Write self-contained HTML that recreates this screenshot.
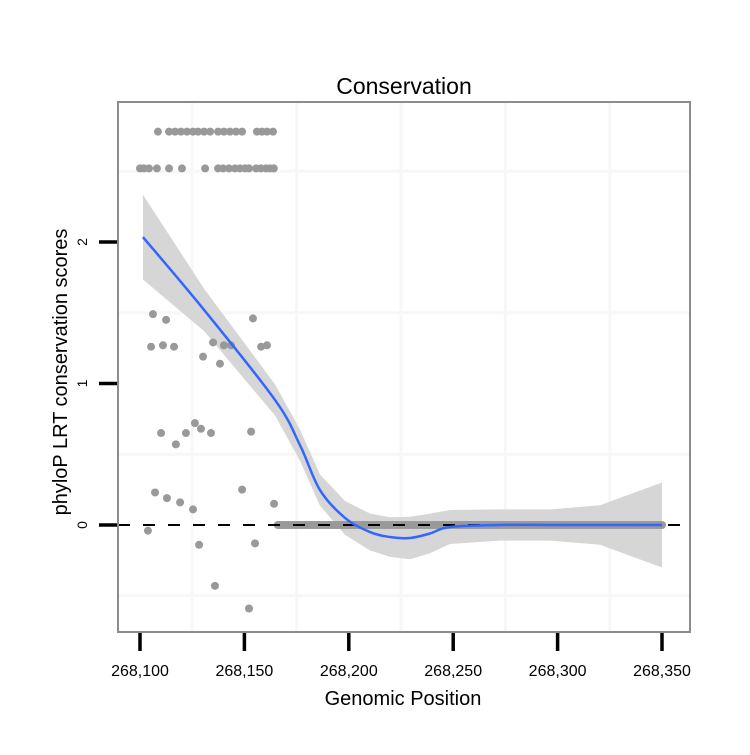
<!DOCTYPE html>
<html><head><meta charset="utf-8"><style>
body{margin:0;background:#fff;}
svg text{font-family:"Liberation Sans",sans-serif;}
</style></head><body>
<svg id="chart" width="750" height="750">
<rect x="0" y="0" width="750" height="750" fill="#fff"/>
<g id="grid"></g>
<g id="band"></g>
<g id="pts"></g>
<g id="zline"></g>
<g id="smooth"></g>
<rect x="118" y="102" width="572" height="530" fill="none" stroke="#8c8c8c" stroke-width="2"/>
<g id="axes"></g>
<text x="404" y="94" font-size="23" text-anchor="middle">Conservation</text>
<text x="403" y="705" font-size="20" text-anchor="middle">Genomic Position</text>
<text transform="translate(67,372) rotate(-90)" font-size="20" text-anchor="middle">phyloP LRT conservation scores</text>
</svg>
<script>
const xTicks=[268100,268150,268200,268250,268300,268350];
const xTickLabels=["268,100","268,150","268,200","268,250","268,300","268,350"];
const yTicks=[0,1,2];
const yTickLabels=["0","1","2"];
const ptX=[268108.6,268113.9,268116.8,268119.6,268122.5,268125.4,268127.8,268130.7,268133.6,268137.4,268140.2,268143.1,268146,268148.9,268156,268158.4,268160.8,268163.7,
268100,268101.9,268104.3,268108.1,268113.9,268120.1,268131.2,268137.4,268139.8,268142.6,268145.5,268147.9,268150.3,268152.2,268155.6,268157.9,268160.3,268162.2,268164.1,
268106.2,268112.5,268105.3,268111,268116.3,268135,268140.2,268143.6,268154.1,268158,268160.8,268130.2,268138.3,
268110.1,268117.2,268122,268126.3,268129.2,268134,268153.2,
268107.2,268112.9,268119.2,268125.4,268148.9,268164.2,
268103.8,268128.3,268155.1,268135.9,268152.2];
const ptY=[2.78,2.78,2.78,2.78,2.78,2.78,2.78,2.78,2.78,2.78,2.78,2.78,2.78,2.78,2.78,2.78,2.78,2.78,
2.52,2.52,2.52,2.52,2.52,2.52,2.52,2.52,2.52,2.52,2.52,2.52,2.52,2.52,2.52,2.52,2.52,2.52,2.52,
1.49,1.45,1.26,1.27,1.26,1.29,1.27,1.27,1.46,1.26,1.27,1.19,1.14,
0.65,0.57,0.65,0.72,0.68,0.65,0.66,
0.23,0.19,0.16,0.11,0.25,0.15,
-0.04,-0.14,-0.13,-0.43,-0.59];
const zeroStart=268166, zeroEnd=268350;
const smX=[268101.4,268130.7,268164.7,268176.6,268186.2,268198.2,268210.2,268219.7,268229.3,268238.9,268248.4,268272.4,268296.4,268320.3,268350];
const smY=[2.035,1.52,0.883,0.565,0.247,0.05,-0.05,-0.085,-0.092,-0.06,-0.014,0,0,0,0];
const smSE=[0.3,0.15,0.11,0.11,0.11,0.12,0.13,0.14,0.15,0.14,0.12,0.11,0.11,0.14,0.3];
const X=v=>140+(v-268100)*2.088, Y=v=>525-v*141.5;
const NS="http://www.w3.org/2000/svg";
function mk(t,p,a){const e=document.createElementNS(NS,t);for(const k in a)e.setAttribute(k,a[k]);p.appendChild(e);return e;}
const grid=document.getElementById('grid');
[268125,268175,268225,268275,268325].forEach(v=>{const l=mk('line',grid,{x1:X(v),x2:X(v),y1:102,y2:632,stroke:'#f7f7f7','stroke-width':3});

});
[-0.5,0.5,1.5,2.5].forEach(v=>{const l=mk('line',grid,{x1:118,x2:690,y1:Y(v),y2:Y(v),stroke:'#f7f7f7','stroke-width':3});

});
let up=smX.map((x,i)=>X(x)+','+Y(smY[i]+smSE[i])), dn=smX.map((x,i)=>X(x)+','+Y(smY[i]-smSE[i])).reverse();
const band=mk('polygon',document.getElementById('band'),{points:up.concat(dn).join(' '),fill:'#d6d6d6'});


const pts=document.getElementById('pts');
ptX.forEach((x,i)=>{const c=mk('circle',pts,{cx:X(x),cy:Y(ptY[i]),r:4,fill:'#999'});

});
for(let x=zeroStart;x<=zeroEnd;x++){const c=mk('circle',pts,{cx:X(x),cy:Y(0),r:4,fill:'#999'});

}
const zl=mk('line',document.getElementById('zline'),{x1:118,x2:690,y1:Y(0),y2:Y(0),stroke:'#000','stroke-width':2,'stroke-dasharray':'12,13'});


const P=smX.map((x,i)=>[X(x),Y(smY[i])]);let d='M'+P[0];
for(let i=0;i<P.length-1;i++){const p0=P[i-1]||P[i],p1=P[i],p2=P[i+1],p3=P[i+2]||p2;
d+=' C'+(p1[0]+(p2[0]-p0[0])/6)+','+(p1[1]+(p2[1]-p0[1])/6)+' '+(p2[0]-(p3[0]-p1[0])/6)+','+(p2[1]-(p3[1]-p1[1])/6)+' '+p2;}
const sm=mk('path',document.getElementById('smooth'),{d:d,fill:'none',stroke:'#3366ff','stroke-width':2.5});


const ax=document.getElementById('axes');
xTicks.forEach((v,i)=>{const t=mk('line',ax,{x1:X(v),x2:X(v),y1:633,y2:651,stroke:'#000','stroke-width':3.5});


const l=mk('text',ax,{x:X(v),y:676,'font-size':16,'text-anchor':'middle'});l.textContent=xTickLabels[i];

});
yTicks.forEach((v,i)=>{const t=mk('line',ax,{x1:99,x2:117,y1:Y(v),y2:Y(v),stroke:'#000','stroke-width':3.5});


const l=mk('text',ax,{transform:'translate(87,'+Y(v)+') rotate(-90)','font-size':14,'text-anchor':'middle'});l.textContent=yTickLabels[i];

});
</script>
</body></html>
